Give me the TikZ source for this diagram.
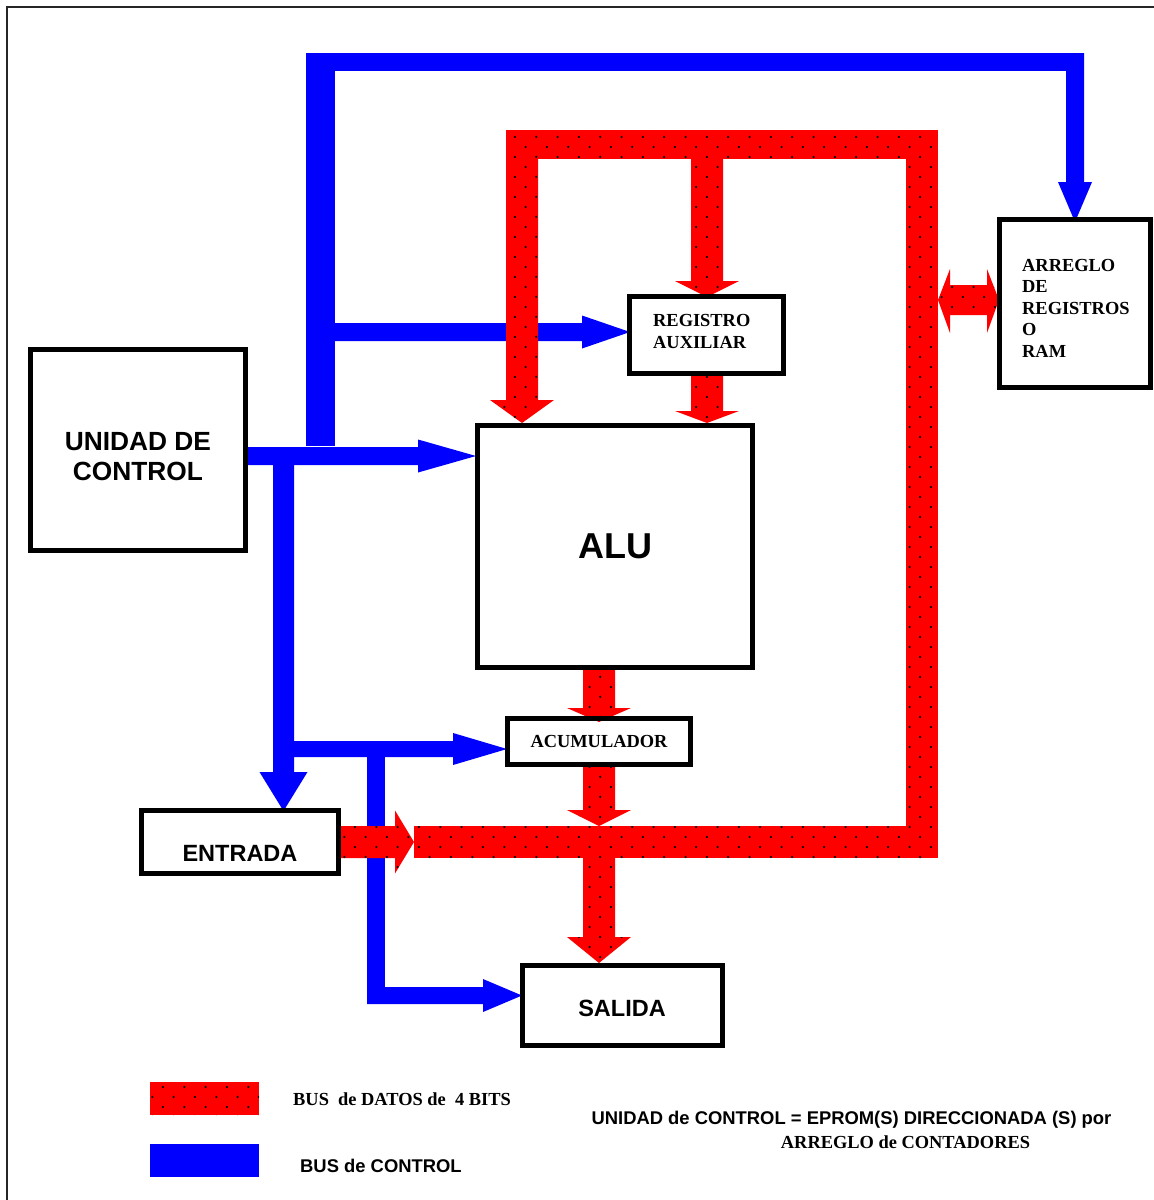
\documentclass[tikz,border=0pt]{standalone}
\usepackage{fontspec}
\setmainfont{Liberation Serif}
\setsansfont{Liberation Sans}
\usetikzlibrary{patterns}
\pgfdeclarepatternformonly{busdots}{\pgfqpoint{-1pt}{-1pt}}{\pgfqpoint{22.33pt}{21pt}}{\pgfqpoint{21.33pt}{20pt}}{%
  \pgfpathcircle{\pgfqpoint{3pt}{3pt}}{1.25pt}%
  \pgfpathcircle{\pgfqpoint{13.67pt}{13pt}}{1.25pt}%
  \pgfusepath{fill}}
% block arrow pointing down: style, x, y start, y tip, half shaft, half head, head length
\newcommand\blkdown[7]{\path[#1] ({#2-#5},#3) -- ({#2+#5},#3) -- ({#2+#5},{#4-#7}) -- ({#2+#6},{#4-#7}) -- (#2,#4) -- ({#2-#6},{#4-#7}) -- ({#2-#5},{#4-#7}) -- cycle;}
% block arrow pointing right: style, y, x start, x tip, half shaft, half head, head length
\newcommand\blkright[7]{\path[#1] (#3,{#2-#5}) -- (#3,{#2+#5}) -- ({#4-#7},{#2+#5}) -- ({#4-#7},{#2+#6}) -- (#4,#2) -- ({#4-#7},{#2-#6}) -- ({#4-#7},{#2-#5}) -- cycle;}
\begin{document}
\begin{tikzpicture}[x=1pt,y=-1pt,
  databus/.style={preaction={fill=red},pattern=busdots,pattern color=black},
  ctrlbus/.style={fill=blue},
  box/.style={draw,line width=5pt,inner sep=0pt},
  serifb/.style={font=\fontsize{18.4pt}{21.5pt}\selectfont\bfseries},
  sansb/.style={font=\fontsize{18.4pt}{22pt}\selectfont\sffamily\bfseries},
  sansbig/.style={font=\fontsize{23.5pt}{28pt}\selectfont\sffamily\bfseries}]
\useasboundingbox (0,0) rectangle (1154,1200);
\fill[white] (0,0) rectangle (1154,1200);
\draw[line width=1.4pt,black!85] (7,1200) -- (7,7) -- (1154,7);

% ---------- control bus (blue) ----------
\path[ctrlbus] (306,53) rectangle (335,446);
\path[ctrlbus] (306,53) rectangle (1084,71);
\blkdown{ctrlbus}{1075}{53}{222}{9}{17}{40}
\blkright{ctrlbus}{332}{335}{630}{9}{16.5}{48}
\blkright{ctrlbus}{456}{248}{476}{9}{16.5}{58}
\blkdown{ctrlbus}{283.5}{447}{811}{10.5}{24}{39}
\blkright{ctrlbus}{749}{273}{507}{8}{16}{54}
\path[ctrlbus] (367,741) rectangle (385,1004);
\blkright{ctrlbus}{995.5}{367}{522}{8.5}{16.5}{39}

% ---------- data bus (red) ----------
\path[databus] (506,130) rectangle (938,159);
\blkdown{databus}{522}{130}{423}{16}{32}{23}
\blkdown{databus}{707}{140}{297}{16}{32}{16}
\path[databus] (906,130) rectangle (938,858);
\path[databus] (414,826) rectangle (938,858);
\path[databus] (938,300) -- (950,269) -- (950,285) -- (987,285) -- (987,269) -- (999,300) -- (987,333) -- (987,315) -- (950,315) -- (950,333) -- cycle;
\blkdown{databus}{707}{376}{423}{16}{32}{12}
\blkdown{databus}{599}{669}{722}{16}{32}{14}
\blkdown{databus}{599}{766}{826}{16}{32}{16}
\blkdown{databus}{599}{850}{963}{16}{32}{26}
\blkright{databus}{842}{341}{414}{16}{31.5}{19}

% ---------- blocks ----------
\node[box,minimum width=215pt,minimum height=201pt] (unidad) at (138,450) {};
\node[box,minimum width=154pt,minimum height=77pt] (reg) at (706.5,335) {};
\node[box,minimum width=275pt,minimum height=242pt] (alu) at (615,546.5) {};
\node[box,minimum width=183pt,minimum height=46pt] (acc) at (599,741.5) {};
\node[box,minimum width=197pt,minimum height=63pt] (ent) at (240,842) {};
\node[box,minimum width=200pt,minimum height=80pt] (sal) at (622.5,1005.5) {};
\node[box,minimum width=151pt,minimum height=168pt] (ram) at (1075,303.5) {};

% ---------- texts ----------
\node[font=\fontsize{26.3pt}{30pt}\selectfont\sffamily\bfseries,align=center,inner sep=0pt] (tunidad) at (138,457) {UNIDAD DE\\CONTROL};
\node[serifb,align=left,anchor=base west,inner sep=0pt] (treg) at (653,348) {REGISTRO\\AUXILIAR};
\node[font=\fontsize{36pt}{40pt}\selectfont\sffamily\bfseries,inner sep=0pt] (talu) at (615,546) {ALU};
\node[serifb,inner sep=0pt] (tacc) at (599,741) {ACUMULADOR};
\node[sansbig,inner sep=0pt] (tent) at (240,853) {ENTRADA};
\node[sansbig,inner sep=0pt] (tsal) at (622,1008) {SALIDA};
\node[serifb,align=left,anchor=base west,inner sep=0pt] (tram) at (1022,357) {ARREGLO\\DE\\REGISTROS\\O\\RAM};

% ---------- legend ----------
\path[databus] (150,1082) rectangle (259,1115);
\path[ctrlbus] (150,1144) rectangle (259,1177);
\node[serifb,anchor=base west,inner sep=0pt] (ldata) at (293,1105) {BUS\ \ de DATOS de\ \ 4 BITS};
\node[sansb,anchor=base west,inner sep=0pt] (lctrl) at (300,1172) {BUS de CONTROL};
\node[sansb,inner sep=0pt] (note1) at (851.5,1120) {UNIDAD de CONTROL = EPROM(S) DIRECCIONADA (S) por};
\node[serifb,inner sep=0pt] (note2) at (905.5,1142) {ARREGLO de CONTADORES};
\end{tikzpicture}
\end{document}
